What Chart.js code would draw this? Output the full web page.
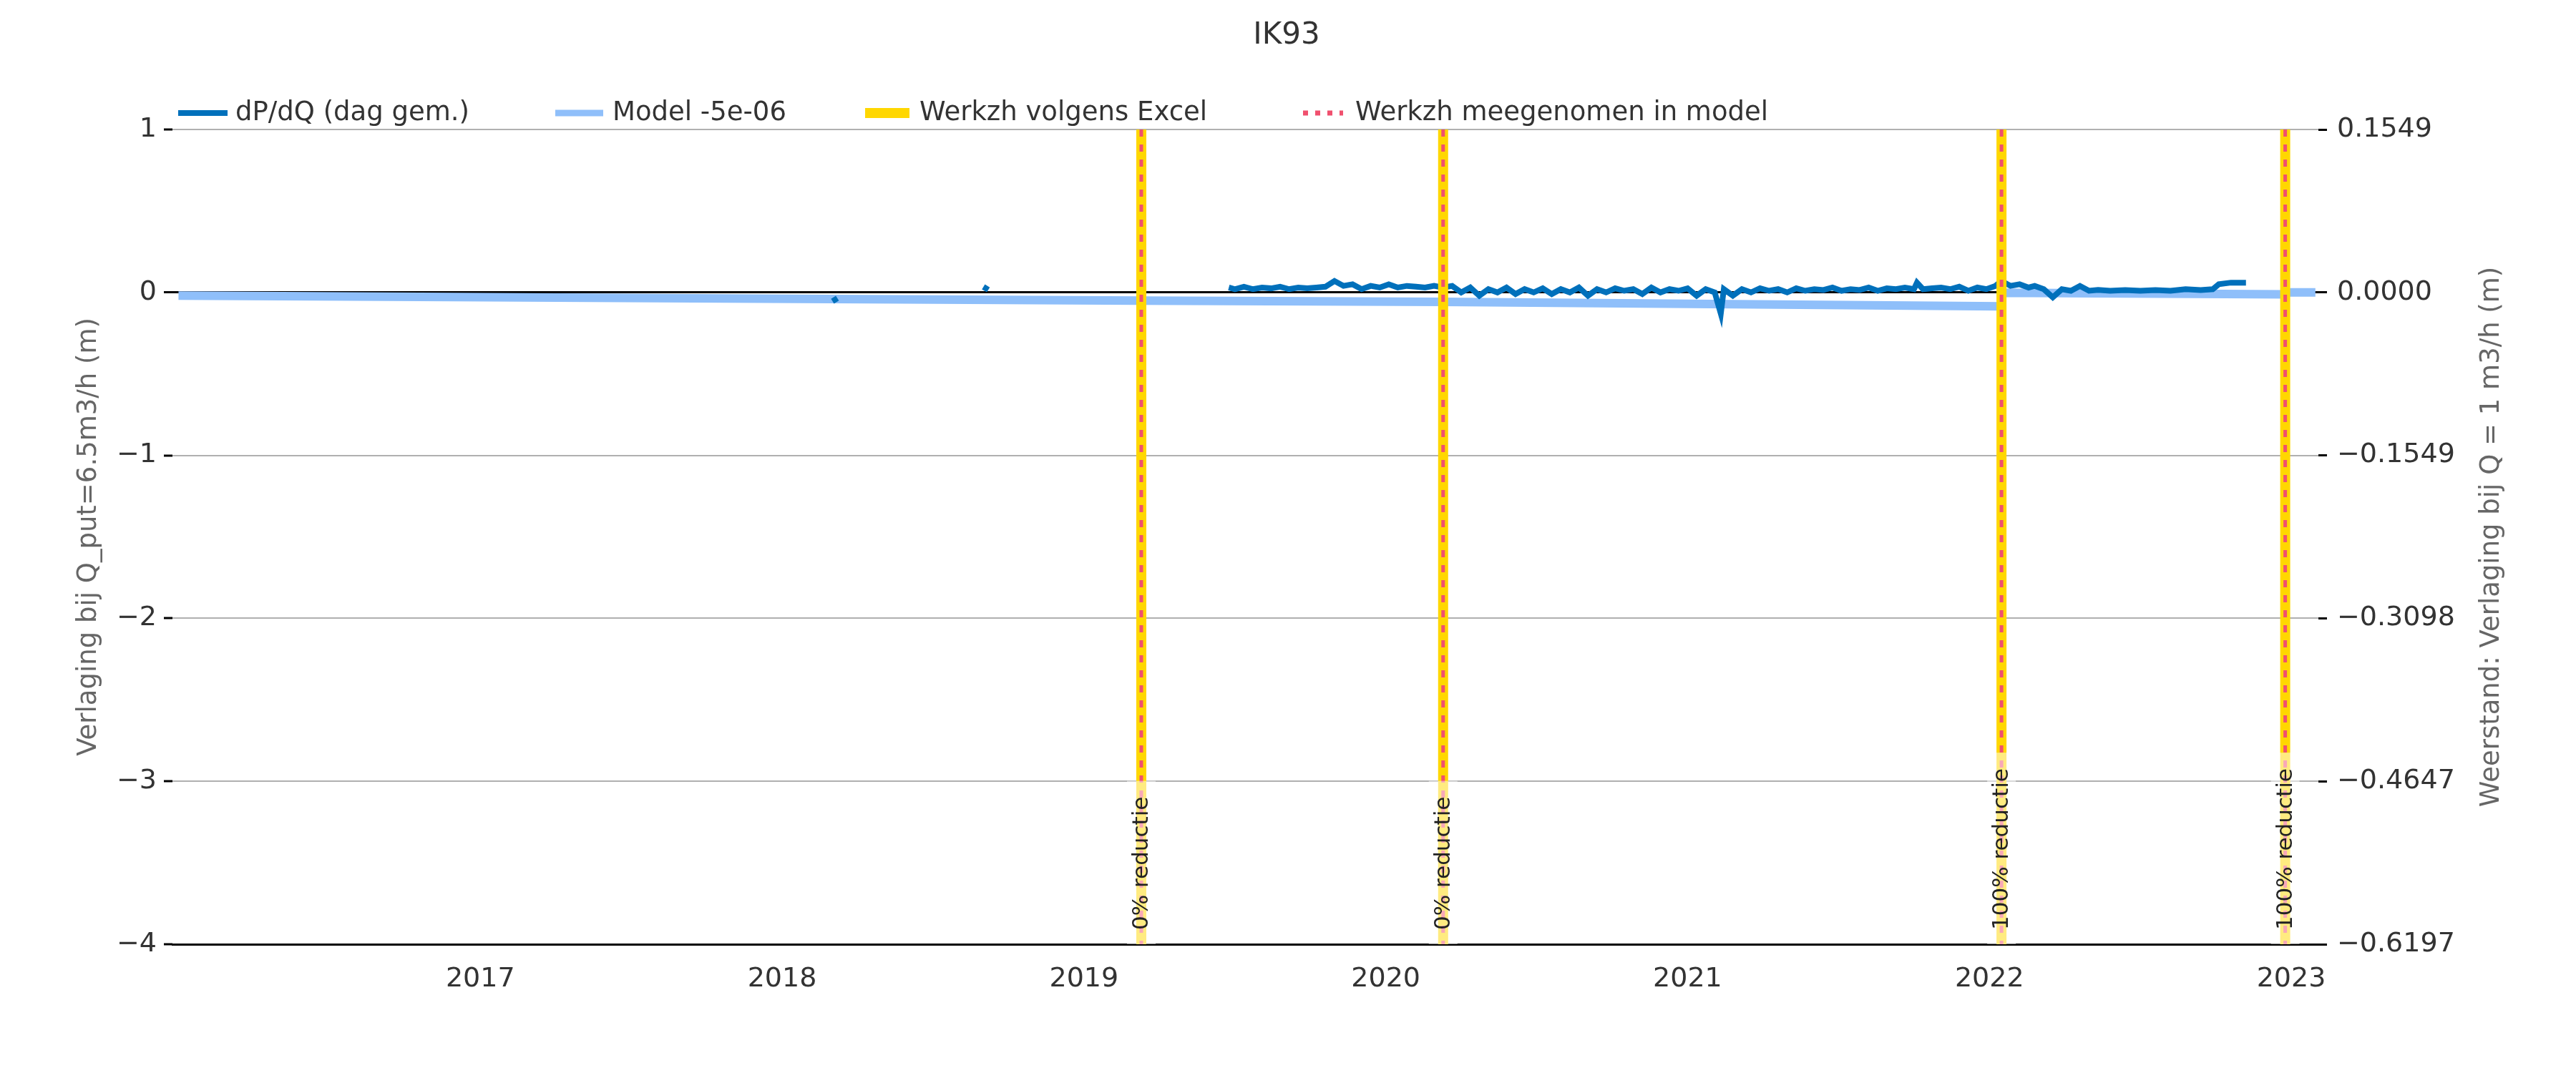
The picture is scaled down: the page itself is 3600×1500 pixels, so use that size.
<!DOCTYPE html>
<html lang="nl">
<head>
  <meta charset="UTF-8">
  <title>IK93</title>
  <script src="https://cdn.jsdelivr.net/npm/chart.js"></script>
  <style>
    body { margin: 0; background: #fff; }
    #wrap { width: 3600px; height: 1500px; }
  </style>
</head>
<body>
  <div id="wrap"><canvas id="chart" width="3600" height="1500"></canvas></div>
  <script>
    // decimal years
    const dataX = [2016.30, 2018.17, 2018.18, 2018.67, 2018.68,
      2019.48, 2019.50, 2019.53, 2019.56, 2019.59, 2019.62, 2019.65, 2019.68, 2019.71, 2019.74, 2019.77, 2019.80, 2019.83, 2019.86, 2019.89, 2019.92, 2019.95, 2019.98, 2020.01, 2020.04, 2020.07, 2020.10, 2020.13, 2020.16, 2020.19,
      2020.22, 2020.25, 2020.28, 2020.31, 2020.34, 2020.37, 2020.40, 2020.43, 2020.46, 2020.49, 2020.52, 2020.55, 2020.58, 2020.61, 2020.64, 2020.67, 2020.70, 2020.73, 2020.76, 2020.79, 2020.82, 2020.85, 2020.88, 2020.91, 2020.94, 2020.97, 2021.00, 2021.03, 2021.06, 2021.09, 2021.11, 2021.12, 2021.15, 2021.18,
      2021.21, 2021.24, 2021.27, 2021.30, 2021.33, 2021.36, 2021.39, 2021.42, 2021.45, 2021.48, 2021.51, 2021.54, 2021.57, 2021.60, 2021.63, 2021.66, 2021.69, 2021.72, 2021.75, 2021.76, 2021.78, 2021.81, 2021.84, 2021.87, 2021.90, 2021.93, 2021.96, 2021.99, 2022.02, 2022.04,
      2022.07, 2022.10, 2022.13, 2022.15, 2022.18, 2022.21, 2022.24, 2022.27, 2022.30, 2022.33, 2022.36, 2022.40, 2022.45, 2022.50, 2022.55, 2022.60, 2022.65, 2022.70, 2022.74, 2022.76, 2022.80, 2022.85];
    const dataY = [-0.01, -0.03, -0.06, 0.01, 0.04,
      0.03, 0.02, 0.035, 0.02, 0.03, 0.025, 0.035, 0.02, 0.03, 0.025, 0.03, 0.035, 0.07, 0.04, 0.05, 0.02, 0.04, 0.03, 0.05, 0.03, 0.04, 0.035, 0.03, 0.04, 0.03,
      0.04, 0.00, 0.03, -0.02, 0.02, 0.00, 0.03, -0.01, 0.02, 0.00, 0.025, -0.01, 0.02, 0.00, 0.03, -0.02, 0.02, 0.00, 0.025, 0.01, 0.02, -0.01, 0.03, 0.00, 0.02, 0.01, 0.025, -0.02, 0.02, 0.00, -0.13, 0.02, -0.02, 0.02,
      0.00, 0.025, 0.01, 0.02, 0.00, 0.025, 0.01, 0.02, 0.015, 0.03, 0.01, 0.02, 0.015, 0.03, 0.01, 0.025, 0.02, 0.03, 0.02, 0.06, 0.02, 0.025, 0.03, 0.02, 0.035, 0.01, 0.03, 0.02, 0.04, 0.07,
      0.04, 0.05, 0.03, 0.04, 0.02, -0.03, 0.02, 0.01, 0.04, 0.01, 0.015, 0.01, 0.015, 0.01, 0.015, 0.01, 0.02, 0.015, 0.02, 0.05, 0.06, 0.06];
    const modelX = [2016.00, 2019.19, 2020.19, 2022.04, 2022.041, 2022.98, 2022.981, 2023.08];
    const modelY = [-0.02, -0.05, -0.058, -0.085, -0.002, -0.012, 0.0, 0.0];
    const werkX = [2019.19, 2020.19, 2022.04, 2022.98];
    const werkLabels = ['0% reductie', '0% reductie', '100% reductie', '100% reductie'];
    const leftTicks = [1, 0, -1, -2, -3, -4];
    const rightTicks = ['0.1549', '0.0000', '\u22120.1549', '\u22120.3098', '\u22120.4647', '\u22120.6197'];
    const yearTicks = [2017, 2018, 2019, 2020, 2021, 2022, 2023];

    const FONT = 'DejaVu Sans';
    const TXT = '#333333';

    const werkPlugin = {
      id: 'werk',
      afterDatasetsDraw(chart) {
        const { ctx, scales: { x, y } } = chart;
        werkX.forEach((v, i) => {
          const px = x.getPixelForValue(v);
          ctx.save();
          ctx.lineCap = 'butt';
          ctx.strokeStyle = '#FFD700';
          ctx.lineWidth = 14;
          ctx.beginPath(); ctx.moveTo(px, y.getPixelForValue(1)); ctx.lineTo(px, y.getPixelForValue(-4)); ctx.stroke();
          ctx.strokeStyle = '#F0506E';
          ctx.lineWidth = 5;
          ctx.setLineDash([10, 11]);
          ctx.beginPath(); ctx.moveTo(px, y.getPixelForValue(1)); ctx.lineTo(px, y.getPixelForValue(-4)); ctx.stroke();
          ctx.setLineDash([]);
          ctx.font = '31px ' + FONT;
          const w = ctx.measureText(werkLabels[i]).width;
          const bottom = y.getPixelForValue(-4) - 20;
          ctx.fillStyle = 'rgba(255,255,255,0.5)';
          ctx.fillRect(px - 20, bottom - w - 22, 40, w + 42);
          ctx.translate(px, bottom);
          ctx.rotate(-Math.PI / 2);
          ctx.fillStyle = '#222';
          ctx.textAlign = 'left';
          ctx.textBaseline = 'middle';
          ctx.fillText(werkLabels[i], 0, 1);
          ctx.restore();
        });
      }
    };

    const decoPlugin = {
      id: 'deco',
      afterDraw(chart) {
        const { ctx, chartArea } = chart;
        const midY = (chartArea.top + chartArea.bottom) / 2;
        ctx.save();
        ctx.fillStyle = TXT;
        ctx.font = '42px ' + FONT;
        ctx.textAlign = 'center';
        ctx.textBaseline = 'middle';
        ctx.fillText('IK93', 1798, 50);
        // axis titles
        ctx.fillStyle = '#666';
        ctx.font = '37px ' + FONT;
        [[124, 'Verlaging bij Q_put=6.5m3/h (m)'], [3482, 'Weerstand: Verlaging bij Q = 1 m3/h (m)']].forEach(([tx, t]) => {
          ctx.save();
          ctx.translate(tx, midY);
          ctx.rotate(-Math.PI / 2);
          ctx.fillText(t, 0, 0);
          ctx.restore();
        });
        // legend
        const ly = 158;
        ctx.font = '37px ' + FONT;
        ctx.textAlign = 'left';
        const items = [
          { x0: 249, x1: 318, tx: 329, text: 'dP/dQ (dag gem.)', col: '#0070BB', w: 8, dash: [] },
          { x0: 776, x1: 843, tx: 856, text: 'Model -5e-06', col: '#8FBFFA', w: 9, dash: [] },
          { x0: 1209, x1: 1271, tx: 1285, text: 'Werkzh volgens Excel', col: '#FFD700', w: 14, dash: [] },
          { x0: 1821, x1: 1877, tx: 1894, text: 'Werkzh meegenomen in model', col: '#F0506E', w: 7, dash: [7, 10] }
        ];
        items.forEach(it => {
          ctx.strokeStyle = it.col;
          ctx.lineWidth = it.w;
          ctx.setLineDash(it.dash);
          ctx.beginPath(); ctx.moveTo(it.x0, ly); ctx.lineTo(it.x1, ly); ctx.stroke();
          ctx.setLineDash([]);
          ctx.fillStyle = TXT;
          ctx.fillText(it.text, it.tx, ly);
        });
        ctx.restore();
      }
    };

    new Chart(document.getElementById('chart'), {
      type: 'line',
      data: {
        datasets: [
          {
            label: 'dP/dQ (dag gem.)',
            data: dataX.map((v, i) => ({ x: v, y: dataY[i] })),
            borderColor: '#0070BB', borderWidth: 8, pointRadius: 0, tension: 0, order: 1,
            segment: { borderColor: c => (c.p0.parsed.x < 2019 && c.p1.parsed.x - c.p0.parsed.x > 0.05) ? 'transparent' : undefined }
          },
          {
            label: 'Model -5e-06',
            data: modelX.map((v, i) => ({ x: v, y: modelY[i] })),
            borderColor: '#8FBFFA', borderWidth: 12, pointRadius: 0, tension: 0, order: 2
          }
        ]
      },
      options: {
        responsive: false,
        animation: false,
        layout: { padding: { top: 181, left: 0, right: 0, bottom: 0 } },
        plugins: { legend: { display: false }, title: { display: false }, tooltip: { enabled: false } },
        scales: {
          x: {
            type: 'linear', min: 2015.98, max: 2023.09,
            afterFit: s => { s.height = 180; },
            afterBuildTicks: s => { s.ticks = yearTicks.map(v => ({ value: v })); },
            grid: { display: false, drawTicks: false },
            border: { color: '#000', width: 3 },
            ticks: { color: TXT, font: { family: FONT, size: 38 }, padding: 26, maxRotation: 0, callback: v => String(v) }
          },
          y: {
            min: -4, max: 1,
            afterFit: s => { s.width = 241; },
            afterBuildTicks: s => { s.ticks = leftTicks.map(v => ({ value: v })); },
            border: { display: false },
            grid: {
              color: c => (c.tick.value === 0 || c.tick.value === -4) ? '#000' : '#b0b0b0',
              lineWidth: c => c.tick.value === 0 ? 3 : 2,
              tickColor: '#000', tickLength: 12, tickWidth: 3
            },
            ticks: { color: TXT, font: { family: FONT, size: 38 }, padding: 10, callback: v => String(v).replace('-', '\u2212') }
          },
          y2: {
            position: 'right', min: -4, max: 1,
            afterFit: s => { s.width = 360; },
            afterBuildTicks: s => { s.ticks = leftTicks.map(v => ({ value: v })); },
            border: { display: false },
            grid: { drawOnChartArea: false, tickColor: '#000', tickLength: 12, tickWidth: 3 },
            ticks: { color: TXT, font: { family: FONT, size: 38 }, padding: 14, callback: v => rightTicks[leftTicks.indexOf(v)] }
          }
        }
      },
      plugins: [werkPlugin, decoPlugin]
    });
  </script>
</body>
</html>
